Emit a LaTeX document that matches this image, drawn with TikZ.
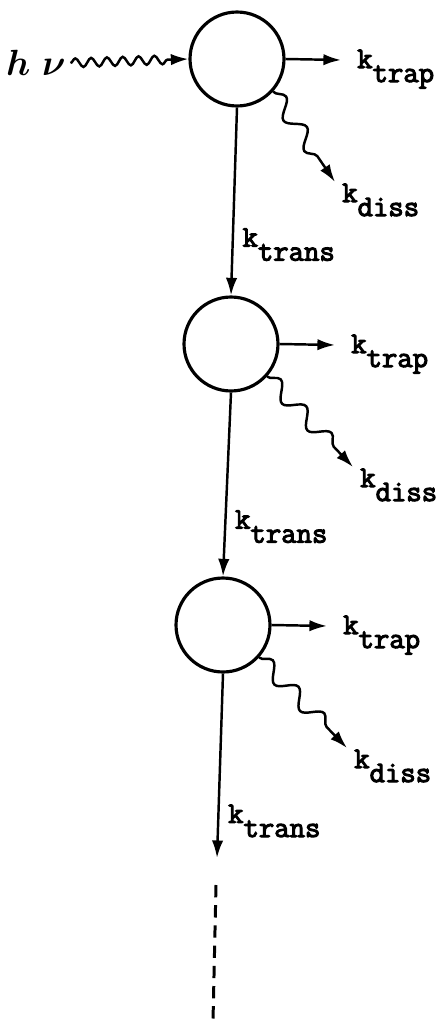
\documentclass[tikz,border=0pt]{standalone}
\usepackage{amsmath}
\usepackage{fontspec}
\newfontfamily\typefont{Latin Modern Mono}[AutoFakeBold=3.5]
\usetikzlibrary{arrows.meta,decorations.pathmorphing}
\newcommand{\rate}[1]{k\raisebox{-8pt}{#1}}

\begin{document}
\begin{tikzpicture}[x=0.02cm,y=-0.02cm,line width=1.4pt,
  state/.style={circle,draw,line width=1.8pt,minimum size=1.88cm,inner sep=0pt},
  ratelabel/.style={font=\typefont\bfseries\fontsize{17}{17}\selectfont,inner sep=0pt},
  arr/.style={-{Latex[length=10pt,width=6.5pt]}},
  photon/.style={decorate,decoration={snake,amplitude=2.5pt,segment length=9pt,post length=8pt}},
  decay/.style={decorate,decoration={snake,amplitude=4.5pt,segment length=21pt,post length=8pt}}]
\useasboundingbox (0,0) rectangle (445,1021);
\foreach \n/\cx/\cy/\dx in {1/237/59/98, 2/231/344/122, 3/223/625/124} {
  \node[state] (c\n) at (\cx,\cy) {};
  \coordinate (t\n) at (\cx+104,\cy+1);
  \coordinate (d\n) at (\cx+\dx,\cy+123);
  \draw[arr] (c\n.east) -- (t\n);
  \node[ratelabel,anchor=base west] (trap\n) at (\cx+119,\cy+9) {\rate{trap}};
  \draw[arr,decay] (c\n.-42) -- (d\n);
  \node[ratelabel,anchor=base west] (diss\n) at (\cx+\dx+6,\cy+143) {\rate{diss}};
}
% incoming light
\node[inner sep=2pt] (hv) at (36,63) {\fontsize{20}{20}\selectfont$\boldsymbol{h\;\nu}$};
\draw[arr,photon] (hv.east) -- (c1.west);
% transfer down the chain
\coordinate (end) at (217,858);
\draw[arr] (c1.south) -- (c2.north) node[ratelabel,pos=0.74,anchor=base west,xshift=5pt] (trans1) {\rate{trans}};
\draw[arr] (c2.south) -- (c3.north) node[ratelabel,pos=0.74,anchor=base west,xshift=5pt] (trans2) {\rate{trans}};
\draw[arr] (c3.south) -- (end) node[ratelabel,pos=0.81,anchor=base west,xshift=5pt] (trans3) {\rate{trans}};
\coordinate (tail a) at (216,885);
\coordinate (tail b) at (213,1021);
\draw[line width=1.7pt,dash pattern=on 7pt off 4.5pt] (tail a) -- (tail b);
\end{tikzpicture}
\end{document}
